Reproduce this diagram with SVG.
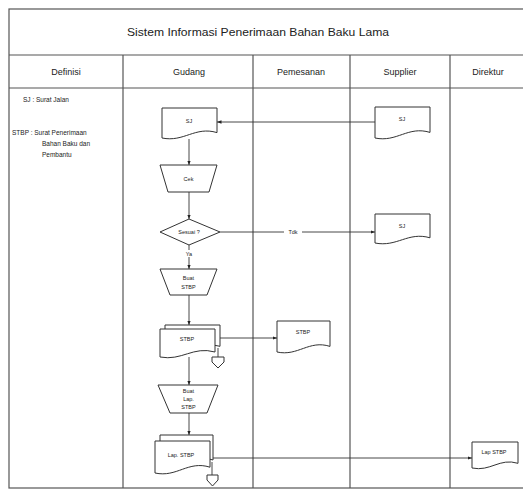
<svg xmlns="http://www.w3.org/2000/svg" width="523" height="492" viewBox="0 0 523 492">
<style>
.frame{fill:none;stroke:#555;stroke-width:1.2}
.shape{fill:#fff;stroke:#333;stroke-width:1}
.conn{fill:none;stroke:#333;stroke-width:0.9}
text{font-family:"Liberation Sans",Arial,sans-serif;fill:#222}
.title{font-size:11.5px}
.hdr{font-size:9px;text-anchor:middle}
.def{font-size:6.5px}
.lbl{font-size:5.5px;text-anchor:middle}
</style>
<defs>
<marker id="ah" viewBox="0 0 10 10" refX="10" refY="5" markerWidth="5" markerHeight="5" orient="auto">
<path d="M0,1 L10,5 L0,9 Z" fill="#222"/>
</marker>
</defs>
<rect width="523" height="492" fill="#fff"/>
<g id="frame">
<rect class="frame" x="9" y="9" width="530" height="479"/>
<line class="frame" x1="9" y1="55" x2="523" y2="55"/>
<line class="frame" x1="9" y1="88" x2="523" y2="88"/>
<line class="frame" x1="123" y1="55" x2="123" y2="488"/>
<line class="frame" x1="253" y1="55" x2="253" y2="488"/>
<line class="frame" x1="350" y1="55" x2="350" y2="488"/>
<line class="frame" x1="450" y1="55" x2="450" y2="488"/>
<text class="title" x="258" y="36" text-anchor="middle" textLength="262" lengthAdjust="spacingAndGlyphs">Sistem Informasi Penerimaan Bahan Baku Lama</text>
<text class="hdr" x="66" y="75">Definisi</text>
<text class="hdr" x="189" y="75">Gudang</text>
<text class="hdr" x="301" y="75">Pemesanan</text>
<text class="hdr" x="400" y="75">Supplier</text>
<text class="hdr" x="488" y="75">Direktur</text>
</g>
<g id="definisi">
<text class="def" x="23" y="102">SJ : Surat Jalan</text>
<text class="def" x="12" y="135">STBP : Surat Penerimaan</text>
<text class="def" x="42" y="146">Bahan Baku dan</text>
<text class="def" x="42" y="157">Pembantu</text>
</g>
<g id="connectors">
<line class="conn" x1="375" y1="122" x2="217" y2="122" marker-end="url(#ah)"/>
<line class="conn" x1="189" y1="139" x2="189" y2="165" marker-end="url(#ah)"/>
<line class="conn" x1="189" y1="192" x2="189" y2="219" marker-end="url(#ah)"/>
<line class="conn" x1="220" y1="232" x2="375" y2="232" marker-end="url(#ah)"/>
<line class="conn" x1="189" y1="245" x2="189" y2="269" marker-end="url(#ah)"/>
<line class="conn" x1="189" y1="295" x2="189" y2="325" marker-end="url(#ah)"/>
<line class="conn" x1="215" y1="338" x2="277" y2="338" marker-end="url(#ah)"/>
<line class="conn" x1="218" y1="348" x2="218" y2="357"/>
<line class="conn" x1="189" y1="357" x2="189" y2="385" marker-end="url(#ah)"/>
<line class="conn" x1="189" y1="413" x2="189" y2="435" marker-end="url(#ah)"/>
<line class="conn" x1="210" y1="458" x2="472" y2="458" marker-end="url(#ah)"/>
<line class="conn" x1="212" y1="462" x2="212" y2="475"/>
<rect x="284" y="228" width="18" height="8" fill="#fff"/>
<text class="lbl" x="293" y="234">Tdk</text>
<rect x="183" y="250" width="12" height="7" fill="#fff"/>
<text class="lbl" x="189" y="256">Ya</text>
</g>
<g id="sj-gudang">
<path class="shape" d="M162,108 H217 V132.6 C195,126 184,142.5 162,138 Z"/>
<text class="lbl" x="189" y="123">SJ</text>
</g>
<g id="sj-supplier">
<path class="shape" d="M375,107 H430 V132.4 C408,125.6 397,142.6 375,138 Z"/>
<text class="lbl" x="402" y="121">SJ</text>
</g>
<g id="cek">
<path class="shape" d="M160,165 H217 L209,192 H168 Z"/>
<text class="lbl" x="188.5" y="181">Cek</text>
</g>
<g id="sesuai">
<path class="shape" d="M160,232 L189,219 L220,232 L189,245 Z"/>
<text class="lbl" x="189" y="234">Sesuai ?</text>
</g>
<g id="sj-retur">
<path class="shape" d="M375,214 H430 V237.8 C408,231.4 397,247.4 375,243 Z"/>
<text class="lbl" x="402" y="228">SJ</text>
</g>
<g id="buat-stbp">
<path class="shape" d="M160,269 H217 L207,295 H170 Z"/>
<text class="lbl" x="188.5" y="280">Buat</text>
<text class="lbl" x="188.5" y="289">STBP</text>
</g>
<g id="stbp-gudang">
<path class="shape" d="M165,325 H220 V346.3 C198,340 187,355 165,351 Z"/>
<path class="shape" d="M160,329 H215 V352 C193,345.8 182,361.2 160,357 Z"/>
<text class="lbl" x="187" y="341">STBP</text>
<path class="shape" d="M212,357 H224 V362 L218,368 L212,362 Z"/>
</g>
<g id="stbp-pemesanan">
<path class="shape" d="M277,321 H330 V346.4 C309,339.6 298,356.6 277,352 Z"/>
<text class="lbl" x="303" y="334">STBP</text>
</g>
<g id="buat-lap">
<path class="shape" d="M158,385 H218 L207,413 H170 Z"/>
<text class="lbl" x="188.5" y="393">Buat</text>
<text class="lbl" x="188.5" y="401">Lap.</text>
<text class="lbl" x="188.5" y="409">STBP</text>
</g>
<g id="lap-gudang">
<path class="shape" d="M160,435 H213 V460 C191,453 180,469 160,465 Z"/>
<path class="shape" d="M155,441 H210 V467.2 C188,460.2 177,477.8 155,473 Z"/>
<text class="lbl" x="181" y="457">Lap. STBP</text>
<path class="shape" d="M207,475 H218 V480 L212.5,486 L207,480 Z"/>
</g>
<g id="lap-direktur">
<path class="shape" d="M472,442 H518 V463.3 C499.6,457.6 490.4,471.9 472,468 Z"/>
<text class="lbl" x="494" y="454">Lap STBP</text>
</g>
</svg>
